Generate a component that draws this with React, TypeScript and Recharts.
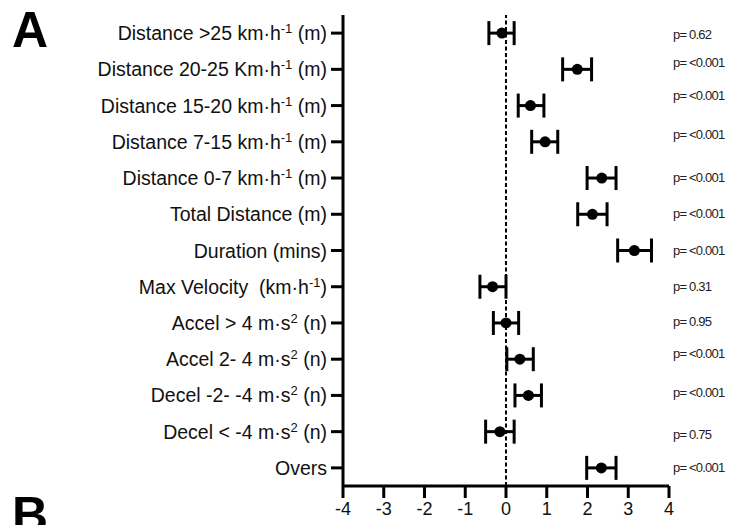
import {
  ErrorBar,
  ReferenceLine,
  Scatter,
  ScatterChart,
  XAxis,
  YAxis,
} from "recharts";

// outcome names, ^{..} marks a superscript
const outcomes = [
  "Distance >25 km·h^{-1} (m)",
  "Distance 20-25 Km·h^{-1} (m)",
  "Distance 15-20 km·h^{-1} (m)",
  "Distance 7-15 km·h^{-1} (m)",
  "Distance 0-7 km·h^{-1} (m)",
  "Total Distance (m)",
  "Duration (mins)",
  "Max Velocity  (km·h^{-1})",
  "Accel > 4 m·s^{2} (n)",
  "Accel 2- 4 m·s^{2} (n)",
  "Decel -2- -4 m·s^{2} (n)",
  "Decel < -4 m·s^{2} (n)",
  "Overs",
];

const effect = [-0.1, 1.75, 0.6, 0.96, 2.35, 2.12, 3.15, -0.33, 0.0, 0.34, 0.55, -0.15, 2.34];
const ciLow = [-0.42, 1.39, 0.3, 0.63, 1.99, 1.76, 2.74, -0.64, -0.31, 0.02, 0.22, -0.5, 1.98];
const ciHigh = [0.2, 2.1, 0.93, 1.27, 2.7, 2.48, 3.57, 0.0, 0.31, 0.67, 0.87, 0.2, 2.7];

const pValues = [
  "p= 0.62",
  "p= <0.001",
  "p= <0.001",
  "p= <0.001",
  "p= <0.001",
  "p= <0.001",
  "p= <0.001",
  "p= 0.31",
  "p= 0.95",
  "p= <0.001",
  "p= <0.001",
  "p= 0.75",
  "p= <0.001",
];

const xTicks = [-4, -3, -2, -1, 0, 1, 2, 3, 4];

// small vertical nudges of the p-value text, as placed in the original figure
const pLabelNudge = [2, -6, -10, -7, 0, 0, 0, 0, -1, -5, -2, 3, 0];

const rowIdx = outcomes.map((_, i) => i);

const data = outcomes.map((name, i) => ({
  idx: i,
  name,
  effect: effect[i],
  err: [effect[i] - ciLow[i], ciHigh[i] - effect[i]],
}));

const FONT = '"Liberation Sans", Arial, Helvetica, sans-serif';

function splitLabel(s: string) {
  const parts: { text: string; sup: boolean }[] = [];
  const re = /\^\{([^}]*)\}/g;
  let last = 0;
  let m: RegExpExecArray | null;
  while ((m = re.exec(s)) !== null) {
    if (m.index > last) parts.push({ text: s.slice(last, m.index), sup: false });
    parts.push({ text: m[1], sup: true });
    last = m.index + m[0].length;
  }
  if (last < s.length) parts.push({ text: s.slice(last), sup: false });
  return parts;
}

const OutcomeTick = ({ x, y, payload }: any) => {
  const label = outcomes[payload.value];
  if (label === undefined) return null;
  const parts = splitLabel(label);
  let raised = false;
  return (
    <text
      x={x}
      y={y + 7}
      textAnchor="end"
      fill="#111"
      fontSize={19.5}
      fontFamily={FONT}
      style={{ whiteSpace: "pre" }}
    >
      {parts.map((p, i) => {
        let dy = 0;
        if (p.sup && !raised) {
          dy = -7;
          raised = true;
        } else if (!p.sup && raised) {
          dy = 7;
          raised = false;
        }
        return (
          <tspan key={i} dy={dy} fontSize={p.sup ? 13 : 19.5}>
            {p.text}
          </tspan>
        );
      })}
    </text>
  );
};

const PTick = ({ x, y, payload }: any) => {
  const i = payload.value;
  if (pValues[i] === undefined) return null;
  return (
    <text
      x={x}
      y={y + pLabelNudge[i] + 4}
      textAnchor="start"
      fill="#222"
      fontSize={13}
      letterSpacing={-0.8}
      fontFamily={FONT}
    >
      {pValues[i]}
    </text>
  );
};

const Dot = (props: any) => <circle cx={props.cx} cy={props.cy} r={5.5} fill="#000" />;
const NoDot = () => null;

export default function App() {
  return (
    <div style={{ position: "absolute", left: 0, top: 0, width: 734, height: 525, background: "#fff" }}>
      <ScatterChart
        width={734}
        height={525}
        margin={{ top: 15, right: 0, bottom: 9, left: 0 }}
      >
        <XAxis
          type="number"
          dataKey="effect"
          domain={[-4, 4]}
          ticks={xTicks}
          height={30}
          tickSize={12}
          tickMargin={4}
          axisLine={{ stroke: "#000", strokeWidth: 3 }}
          tickLine={{ stroke: "#000", strokeWidth: 3 }}
          tick={{ fill: "#111", fontSize: 18, fontFamily: FONT }}
          interval={0}
        />
        <YAxis
          yAxisId="left"
          type="number"
          dataKey="idx"
          domain={[-0.5, outcomes.length - 0.5]}
          ticks={rowIdx}
          reversed
          width={343}
          tickSize={12}
          tickMargin={4}
          axisLine={{ stroke: "#000", strokeWidth: 3 }}
          tickLine={{ stroke: "#000", strokeWidth: 3 }}
          tick={<OutcomeTick />}
          interval={0}
        />
        <YAxis
          yAxisId="right"
          orientation="right"
          type="number"
          dataKey="idx"
          domain={[-0.5, outcomes.length - 0.5]}
          ticks={rowIdx}
          reversed
          width={65}
          axisLine={false}
          tickLine={false}
          tickSize={0}
          tickMargin={4}
          tick={<PTick />}
          interval={0}
        />
        <ReferenceLine
          yAxisId="left"
          x={0}
          stroke="#000"
          strokeWidth={2}
          strokeDasharray="4 2.5"
        />
        {/* invisible series so the right axis (p-values) is drawn */}
        <Scatter
          yAxisId="right"
          data={data}
          dataKey="effect"
          shape={<NoDot />}
          isAnimationActive={false}
        />
        <Scatter
          yAxisId="left"
          data={data}
          dataKey="effect"
          fill="#000"
          shape={<Dot />}
          isAnimationActive={false}
        >
          <ErrorBar
            dataKey="err"
            direction="x"
            width={12}
            stroke="#000"
            strokeWidth={3}
            isAnimationActive={false}
          />
        </Scatter>
      </ScatterChart>
      <svg
        width={734}
        height={525}
        style={{ position: "absolute", left: 0, top: 0, pointerEvents: "none" }}
      >
        <text x={12} y={47} fontSize={50} fontWeight="bold" fontFamily={FONT} fill="#000">
          A
        </text>
        <text x={12} y={532} fontSize={50} fontWeight="bold" fontFamily={FONT} fill="#000">
          B
        </text>
      </svg>
    </div>
  );
}
